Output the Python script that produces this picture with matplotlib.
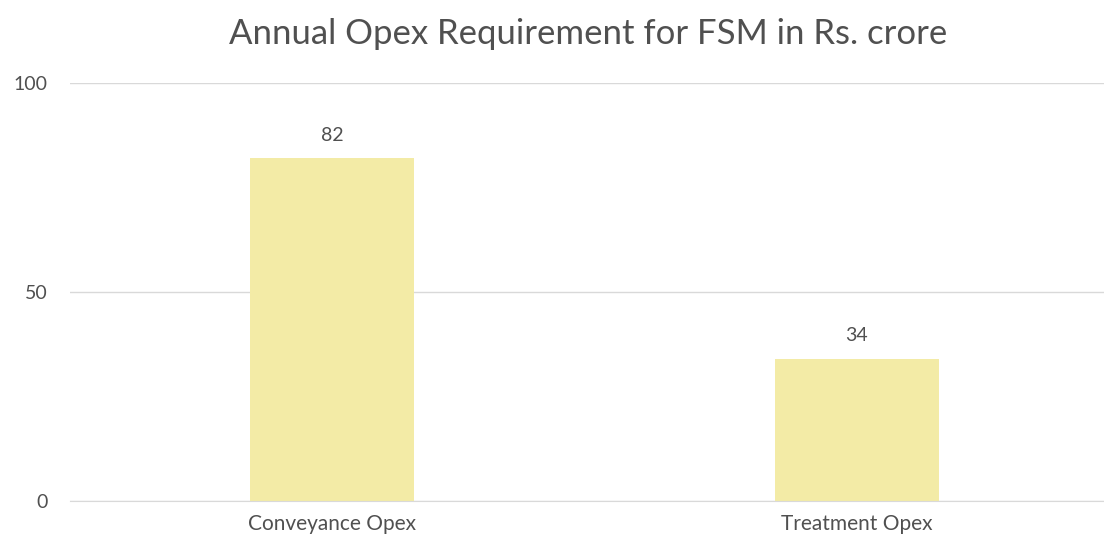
import matplotlib.pyplot as plt

categories = ["Conveyance Opex", "Treatment Opex"]
opex = [82, 34]
yticks = [0, 50, 100]

plt.rcParams['font.family'] = ['Lato', 'DejaVu Sans']
text_color = '#505050'

fig = plt.figure(figsize=(11.04, 5.43), dpi=100)
ax = fig.add_axes([70 / 1104, 42 / 543, 1034 / 1104, 418 / 543])

x = list(range(len(categories)))
bars = ax.bar(x, opex, width=0.313, color='#F3EBA6', zorder=2)
for xi, v in zip(x, opex):
    ax.text(xi, v + 3.5, str(v), ha='center', va='bottom', fontsize=14, color=text_color)

ax.set_xlim(-0.5, -0.5 + 1034 / 524.5)
ax.set_ylim(0, 100)
ax.set_yticks(yticks)
ax.set_xticks(x)
ax.set_xticklabels(categories)
ax.tick_params(axis='both', length=0, labelsize=14, labelcolor=text_color)
ax.tick_params(axis='x', labelsize=15, pad=9)
ax.tick_params(axis='y', pad=16)
ax.grid(axis='y', color='#D9D9D9', linewidth=1, zorder=0)
for s in ['top', 'right', 'left']:
    ax.spines[s].set_visible(False)
ax.spines['bottom'].set_color('#D9D9D9')

fig.text(588 / 1104, 1 - 34 / 543, "Annual Opex Requirement for FSM in Rs. crore",
         ha='center', va='center', fontsize=25, color=text_color)

fig.savefig('out.png', dpi=100)
